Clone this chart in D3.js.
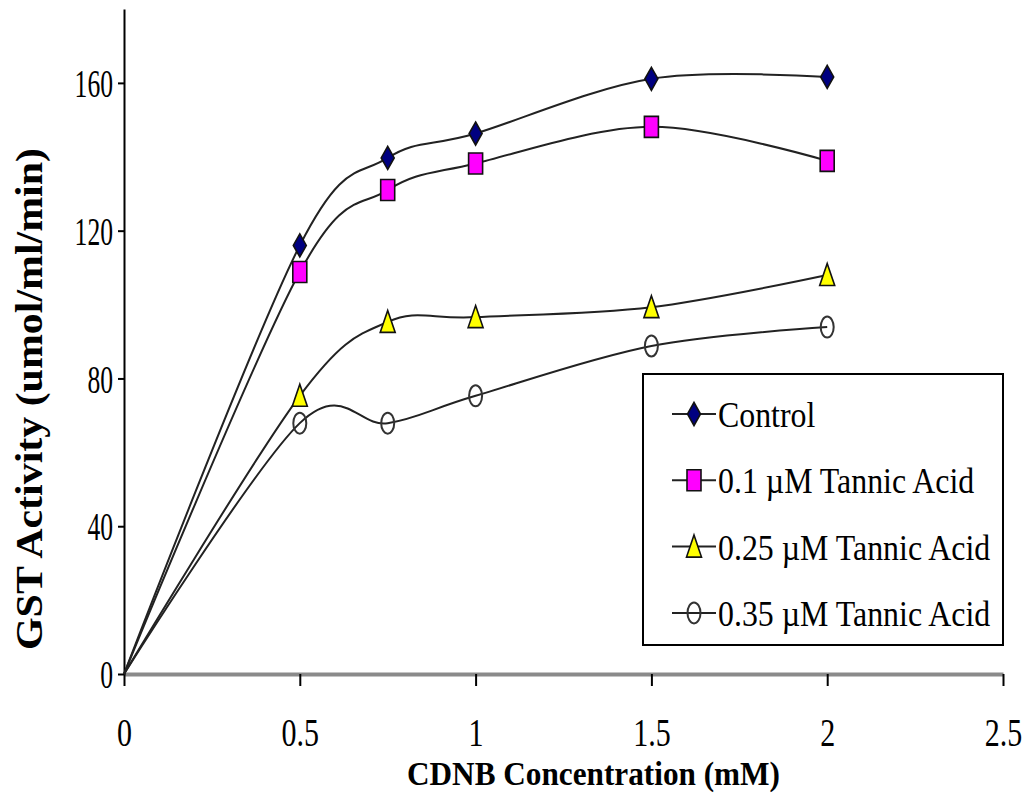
<!DOCTYPE html>
<html>
<head>
<meta charset="utf-8">
<script src="https://cdn.jsdelivr.net/npm/d3@7"></script>
<style>
  html, body { margin: 0; padding: 0; background: #fff; }
  svg { display: block; }
  text { font-family: "Liberation Serif", "Times New Roman", serif; fill: #000; }
</style>
</head>
<body>
<script>
// CDNB concentration (mM) on the x axis
const concentrations = [0, 0.5, 0.75, 1, 1.5, 2];

// GST activity (umol/ml/min) per treatment
const controlValues = [0, 116, 139.7, 146.3, 161.1, 161.6];
const tannic01Values = [0, 108.8, 131, 138.2, 148.1, 138.9];
const tannic025Values = [0, 75.3, 95.3, 96.6, 99.3, 108];
const tannic035Values = [0, 67.9, 67.9, 75.3, 88.8, 93.9];

const seriesNames = ["Control", "0.1 \u00B5M Tannic Acid", "0.25 \u00B5M Tannic Acid", "0.35 \u00B5M Tannic Acid"];

const xTickValues = [0, 0.5, 1, 1.5, 2, 2.5];
const xTickLabels = ["0", "0.5", "1", "1.5", "2", "2.5"];
const yTickValues = [0, 40, 80, 120, 160];
const yTickLabels = ["0", "40", "80", "120", "160"];

const W = 1035, H = 804;

const series = [
  { name: seriesNames[0], values: controlValues, shape: "diamond", fill: "#000080" },
  { name: seriesNames[1], values: tannic01Values, shape: "square", fill: "#FF00FF" },
  { name: seriesNames[2], values: tannic025Values, shape: "triangle", fill: "#FFFF00" },
  { name: seriesNames[3], values: tannic035Values, shape: "circle", fill: "none" }
];

const x = d3.scaleLinear().domain([0, 2.5]).range([124, 1003]);
const y = d3.scaleLinear().domain([0, 180]).range([674, 9]);

const svg = d3.select("body").append("svg")
  .attr("width", W).attr("height", H);

svg.append("rect").attr("width", W).attr("height", H).attr("fill", "#fff");

// narrow the glyphs horizontally, keeping the anchor point
function condense(sel, factor) {
  sel.each(function () {
    const len = this.getComputedTextLength();
    d3.select(this).attr("textLength", len * factor).attr("lengthAdjust", "spacingAndGlyphs");
  });
}

// x axis: thick grey baseline with black ticks below
const xAxis = svg.append("g")
  .attr("transform", `translate(0,${y(0)})`)
  .call(d3.axisBottom(x).tickValues(xTickValues)
    .tickFormat((d, i) => xTickLabels[i]).tickSize(12).tickSizeOuter(0));
xAxis.select(".domain").attr("stroke", "#8a8a8a").attr("stroke-width", 4);
xAxis.selectAll(".tick line").attr("stroke", "#000").attr("stroke-width", 2);
xAxis.selectAll(".tick text")
  .attr("y", 72).attr("dy", 0)
  .style("font-family", '"Liberation Serif", serif')
  .style("font-size", "40px").attr("fill", "#000")
  .call(condense, 0.75);

// y axis
const yAxis = svg.append("g")
  .attr("transform", `translate(${x(0)},0)`)
  .call(d3.axisLeft(y).tickValues(yTickValues)
    .tickFormat((d, i) => yTickLabels[i]).tickSize(6).tickPadding(5).tickSizeOuter(0));
yAxis.select(".domain").attr("stroke", "#000").attr("stroke-width", 2);
yAxis.selectAll(".tick line").attr("stroke", "#000").attr("stroke-width", 2);
yAxis.selectAll(".tick text")
  .attr("dy", "0.34em")
  .style("font-family", '"Liberation Serif", serif')
  .style("font-size", "40px").attr("fill", "#000")
  .call(condense, 0.64);

// smoothed series lines
const line = d3.line()
  .x((d, i) => x(concentrations[i]))
  .y(d => y(d))
  .curve(d3.curveCardinal.tension(0));

svg.append("g").selectAll("path.series")
  .data(series).join("path")
  .attr("class", "series")
  .attr("d", s => line(s.values))
  .attr("fill", "none")
  .attr("stroke", "#222")
  .attr("stroke-width", 2);

// marker shapes (tall and narrow)
function markerPath(shape) {
  switch (shape) {
    case "diamond": return "M0,-11.5L6.5,0L0,11.5L-6.5,0Z";
    case "square": return "M-7,-10.5H7V10.5H-7Z";
    case "triangle": return "M0,-11.5L7.5,10.5H-7.5Z";
    default: return null;
  }
}

function drawMarker(g, s) {
  if (s.shape === "circle") {
    g.append("ellipse").attr("rx", 6.5).attr("ry", 10.5)
      .attr("fill", "none").attr("stroke", "#333").attr("stroke-width", 2);
  } else {
    g.append("path").attr("d", markerPath(s.shape))
      .attr("fill", s.fill).attr("stroke", "#111").attr("stroke-width", 1.6);
  }
}

// markers at each measured concentration (none at the origin)
series.forEach(s => {
  const g = svg.append("g");
  s.values.forEach((v, i) => {
    if (concentrations[i] === 0) return;
    const m = g.append("g").attr("transform", `translate(${x(concentrations[i])},${y(v)})`);
    drawMarker(m, s);
  });
});

// legend
const legend = svg.append("g");
legend.append("rect")
  .attr("x", 643).attr("y", 374).attr("width", 360).attr("height", 271)
  .attr("fill", "#fff").attr("stroke", "#000").attr("stroke-width", 2);

series.forEach((s, i) => {
  const cy = 414 + i * 66.3;
  const row = legend.append("g");
  row.append("line").attr("x1", 672).attr("x2", 716).attr("y1", cy).attr("y2", cy)
    .attr("stroke", "#222").attr("stroke-width", 2);
  drawMarker(row.append("g").attr("transform", `translate(694,${cy})`), s);
  row.append("text").attr("x", 718).attr("y", cy + 13)
    .style("font-size", "36px").text(s.name)
    .call(condense, 0.885);
});

// axis titles
svg.append("text")
  .attr("x", 593.5).attr("y", 785)
  .attr("text-anchor", "middle")
  .style("font-size", "33px").style("font-weight", "bold")
  .attr("textLength", 373).attr("lengthAdjust", "spacingAndGlyphs")
  .text("CDNB Concentration (mM)");

svg.append("text")
  .attr("transform", "translate(42,399) rotate(-90)")
  .attr("text-anchor", "middle")
  .style("font-size", "37px").style("font-weight", "bold")
  .attr("textLength", 502).attr("lengthAdjust", "spacingAndGlyphs")
  .text("GST Activity (umol/ml/min)");
</script>
</body>
</html>
